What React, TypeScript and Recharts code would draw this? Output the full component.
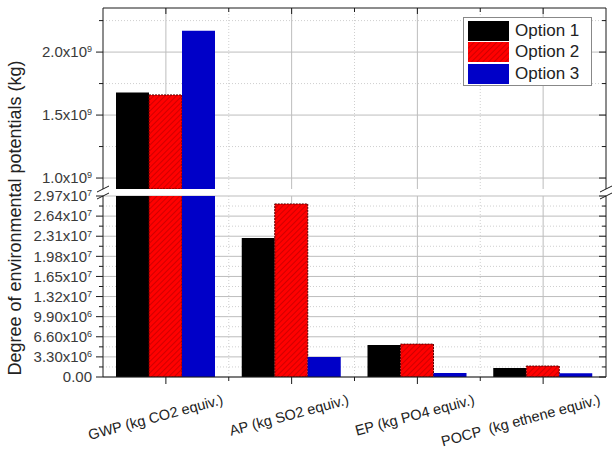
import { BarChart, Bar, XAxis, YAxis, CartesianGrid, Legend } from 'recharts';

// impact categories and the three options (kg)
const categories = ['GWP (kg CO2 equiv.)', 'AP (kg SO2 equiv.)', 'EP (kg PO4 equiv.)', 'POCP  (kg ethene equiv.)'];
const seriesNames = ['Option 1', 'Option 2', 'Option 3'];
const option1 = [1.68e9, 2.28e7, 5.25e6, 1.48e6];
const option2 = [1.66e9, 2.84e7, 5.4e6, 1.8e6];
const option3 = [2.17e9, 3.3e6, 6.6e5, 6.0e5];

// broken y axis: upper and lower segments
const upperDomain = [0.913e9, 2.35e9];
const upperMajor = [1.0e9, 1.5e9, 2.0e9];
const upperMinor = [1.25e9, 1.75e9, 2.25e9];
const lowerDomain = [0, 2.97e7];
const lowerMajor = [0, 3.3e6, 6.6e6, 9.9e6, 1.32e7, 1.65e7, 1.98e7, 2.31e7, 2.64e7, 2.97e7];
const lowerMinor = [1.65e6, 4.95e6, 8.25e6, 1.155e7, 1.485e7, 1.815e7, 2.145e7, 2.475e7, 2.805e7];

const W = 612;
const LEFT = 103;
const RIGHT = 6;
const BAND = (W - LEFT - RIGHT) / categories.length;
const FONT = '"Liberation Sans", Arial, sans-serif';
const AXIS = '#1a1a1a';

const lowerData = categories.map((name, i) => ({ name, o1: option1[i], o2: option2[i], o3: option3[i] }));
const keep = (v: number) => (v >= upperDomain[0] ? v : null);
const upperData = lowerData.map((r) => ({ name: r.name, o1: keep(r.o1), o2: keep(r.o2), o3: keep(r.o3) }));

// vertical grid: solid at category centres, dotted at category boundaries
const centreLines = ({ offset }: any) =>
    categories.map((_, i) => offset.left + ((i + 0.5) * offset.width) / categories.length);
const boundaryLines = ({ offset }: any) =>
    categories.slice(1).map((_, i) => offset.left + ((i + 1) * offset.width) / categories.length);

const sci = (v: number, digits: number) => {
    if (v === 0) return { m: '0.00', e: null as number | null };
    const e = Math.floor(Math.log10(v) + 1e-9);
    return { m: (v / 10 ** e).toFixed(digits), e };
};

const makeLeftTick = (majors: number[], digits: number) => (props: any) => {
    const { x, y, payload } = props;
    const major = majors.includes(payload.value);
    const len = major ? 7 : 4;
    if (!major) return <line x1={x - len} x2={x} y1={y} y2={y} stroke={AXIS} />;
    const { m, e } = sci(payload.value, digits);
    return (
        <g>
            <line x1={x - len} x2={x} y1={y} y2={y} stroke={AXIS} />
            <text x={x - 11} y={y} dy="0.35em" textAnchor="end" fontSize={15} fill="#3a3a3a" fontFamily={FONT}>
                {m}
                {e !== null && (
                    <>
                        x10<tspan dy="-0.55em" fontSize={9}>{e}</tspan>
                    </>
                )}
            </text>
        </g>
    );
};

const makeRightTick = (majors: number[]) => (props: any) => {
    const { x, y, payload } = props;
    const len = majors.includes(payload.value) ? 7 : 4;
    return <line x1={x - len} x2={x} y1={y} y2={y} stroke={AXIS} />;
};

const TopTick = (props: any) => {
    const { x, y, index } = props;
    return (
        <g>
            <line x1={x} x2={x} y1={y} y2={y + 6} stroke={AXIS} />
            {index > 0 && <line x1={x - BAND / 2} x2={x - BAND / 2} y1={y} y2={y + 4} stroke={AXIS} />}
        </g>
    );
};

const BottomTick = (props: any) => {
    const { x, y, index, payload } = props;
    const tx = x + 58;
    const ty = y + 27;
    return (
        <g>
            <line x1={x} x2={x} y1={y} y2={y + 7} stroke={AXIS} />
            {index > 0 && <line x1={x - BAND / 2} x2={x - BAND / 2} y1={y} y2={y + 4} stroke={AXIS} />}
            <text x={tx} y={ty} textAnchor="end" transform={`rotate(-15, ${tx}, ${ty})`} fontSize={14.5} fill="#222" fontFamily={FONT} style={{ whiteSpace: 'pre' }}>
                {payload.value}
            </text>
        </g>
    );
};

const Hatch = ({ id }: { id: string }) => (
    <defs>
        <pattern id={id} width="4" height="4" patternUnits="userSpaceOnUse" patternTransform="rotate(45)">
            <rect width="4" height="4" fill="#ff0000" />
            <line x1="0" y1="0" x2="0" y2="4" stroke="#b00000" strokeWidth="1.2" />
        </pattern>
    </defs>
);

const LegendBox = ({ payload }: any) => (
    <div style={{ border: '1px solid #888', background: '#fff', padding: '2px 4px', boxSizing: 'border-box', width: 129, height: 69 }}>
        {(payload || []).map((entry: any) => (
            <div key={entry.value} style={{ display: 'flex', alignItems: 'center', height: 21.5 }}>
                <svg width={41} height={20}>
                    <rect width={41} height={20} fill={entry.color} />
                </svg>
                <span style={{ marginLeft: 6, fontSize: 17, fontFamily: FONT, color: '#222' }}>{entry.value}</span>
            </div>
        ))}
    </div>
);

const bars = (hatchId: string) => [
    <Bar key="o1" dataKey="o1" name={seriesNames[0]} fill="#000000" isAnimationActive={false} />,
    <Bar key="o2" dataKey="o2" name={seriesNames[1]} fill={`url(#${hatchId})`} stroke="#5a0000" strokeDasharray="2 1" isAnimationActive={false} />,
    <Bar key="o3" dataKey="o3" name={seriesNames[2]} fill="#0000c8" isAnimationActive={false} />,
];

const grids = (major: number[], minor: number[]) => [
    <CartesianGrid key="maj" horizontalValues={major} verticalCoordinatesGenerator={centreLines} stroke="#bdbdbd" />,
    <CartesianGrid key="min" horizontalValues={minor} verticalCoordinatesGenerator={boundaryLines} stroke="#cfcfcf" strokeDasharray="1 2" />,
];

const UpperChart = () => (
    <BarChart width={W} height={189} data={upperData} margin={{ top: 0, right: 0, bottom: 0, left: 0 }} barCategoryGap={13} barGap={0}>
        <Hatch id="hatchA" />
        {grids(upperMajor, upperMinor)}
        <XAxis dataKey="name" orientation="top" height={8} interval={0} tickSize={0} tickMargin={0} tickLine={false} tick={TopTick} axisLine={{ stroke: AXIS }} />
        <YAxis width={LEFT} domain={upperDomain} allowDataOverflow ticks={[...upperMajor, ...upperMinor]} interval={0} tickSize={0} tickMargin={0} tickLine={false} tick={makeLeftTick(upperMajor, 1)} axisLine={{ stroke: AXIS }} />
        <YAxis yAxisId="r" orientation="right" width={RIGHT} domain={upperDomain} allowDataOverflow ticks={[...upperMajor, ...upperMinor]} interval={0} tickSize={0} tickMargin={0} tickLine={false} tick={makeRightTick(upperMajor)} axisLine={{ stroke: AXIS }} />
        <Legend layout="horizontal" verticalAlign="middle" align="center" content={LegendBox} wrapperStyle={{ position: 'absolute', left: 463, top: 17, width: 129, height: 69 }} />
        {bars('hatchA')}
    </BarChart>
);

const LowerChart = () => (
    <BarChart width={W} height={290} data={lowerData} margin={{ top: 36, right: 0, bottom: 0, left: 0 }} barCategoryGap={13} barGap={0}>
        <Hatch id="hatchB" />
        {grids(lowerMajor, lowerMinor)}
        <XAxis dataKey="name" height={73} interval={0} tickSize={0} tickMargin={0} tickLine={false} tick={BottomTick} axisLine={{ stroke: AXIS }} />
        <YAxis width={LEFT} domain={lowerDomain} allowDataOverflow ticks={[...lowerMajor, ...lowerMinor]} interval={0} tickSize={0} tickMargin={0} tickLine={false} tick={makeLeftTick(lowerMajor, 2)} axisLine={{ stroke: AXIS }} />
        <YAxis yAxisId="r" orientation="right" width={RIGHT} domain={lowerDomain} allowDataOverflow ticks={[...lowerMajor, ...lowerMinor]} interval={0} tickSize={0} tickMargin={0} tickLine={false} tick={makeRightTick(lowerMajor)} axisLine={{ stroke: AXIS }} />
        {bars('hatchB')}
    </BarChart>
);

export default function App() {
    return (
        <div style={{ position: 'absolute', left: 0, top: 0, width: W, height: 450, background: '#fff' }}>
            <div style={{ position: 'absolute', left: 0, top: 0 }}>
                <UpperChart />
            </div>
            <div style={{ position: 'absolute', left: 0, top: 160 }}>
                <LowerChart />
            </div>
            <svg width={W} height={450} style={{ position: 'absolute', left: 0, top: 0, pointerEvents: 'none' }}>
                <text x={15} y={218} transform="rotate(-90, 15, 218)" textAnchor="middle" dy="0.35em" fontSize={18} fill="#222" fontFamily={FONT}>
                    Degree of environmental potentials (kg)
                </text>
                {/* axis break marks */}
                <g stroke={AXIS} strokeWidth={1}>
                    <line x1={97} y1={192} x2={109} y2={186} />
                    <line x1={97} y1={199} x2={109} y2={193} />
                    <line x1={600} y1={192} x2={612} y2={186} />
                    <line x1={600} y1={199} x2={612} y2={193} />
                </g>
            </svg>
        </div>
    );
}
